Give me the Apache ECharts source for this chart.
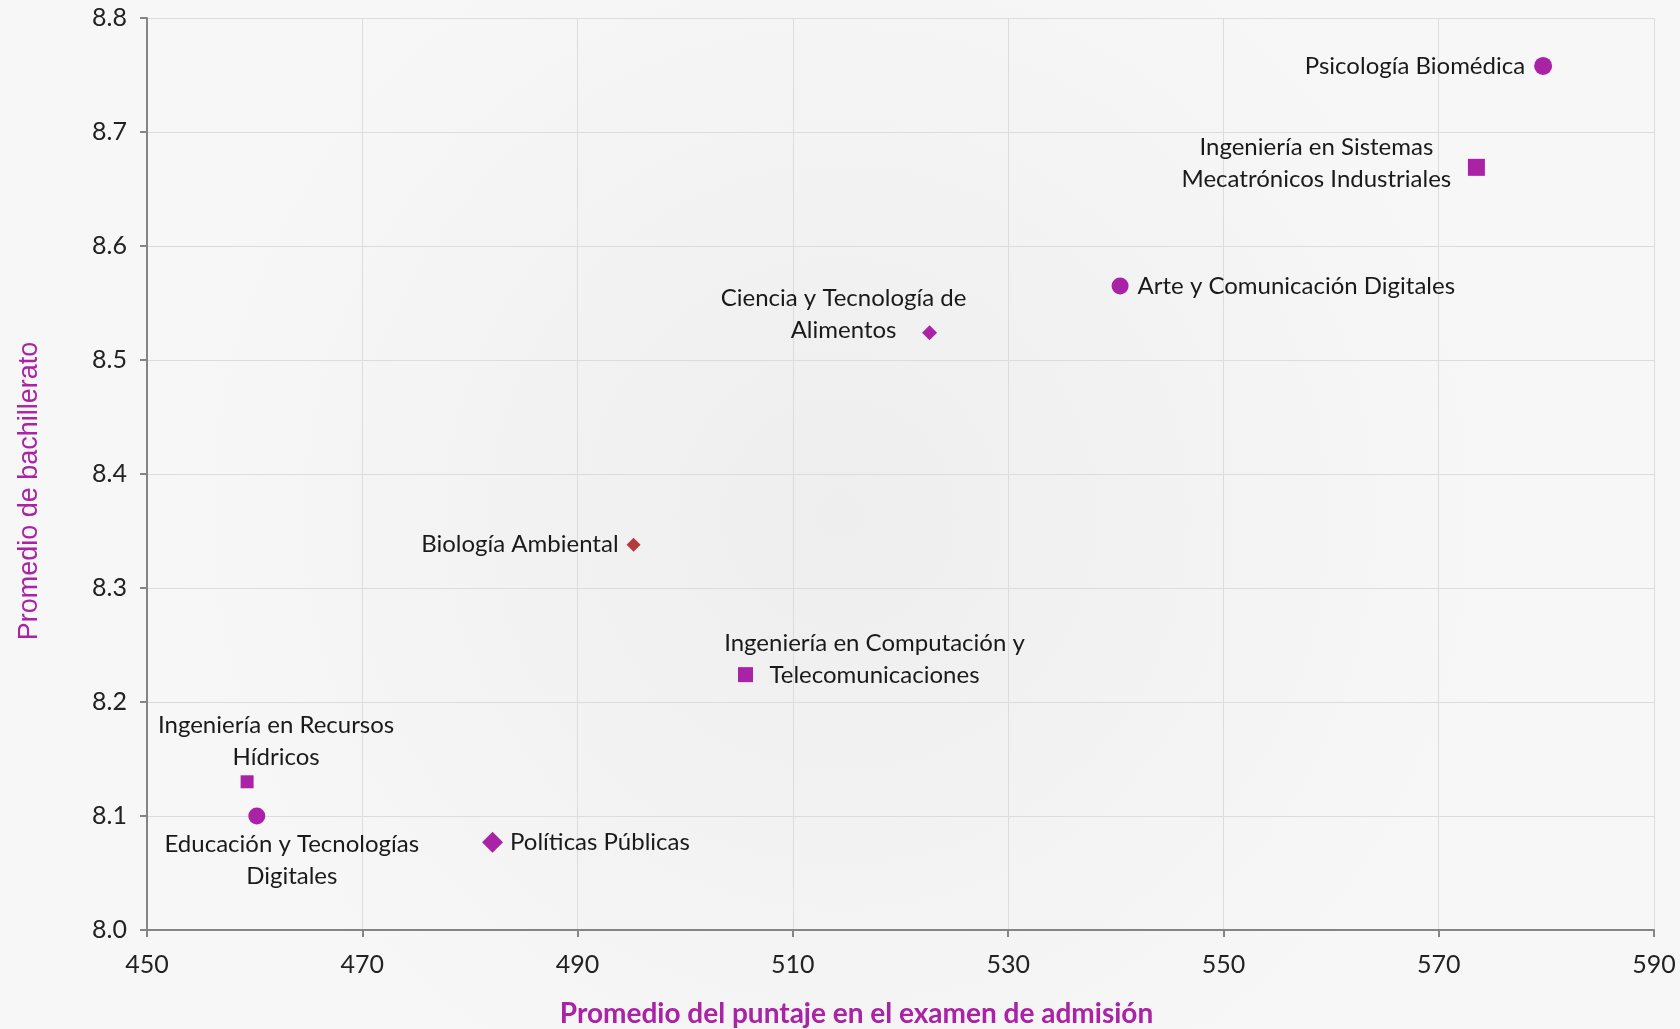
<!DOCTYPE html>
<html>
<head>
<meta charset="utf-8">
<script src="https://cdn.jsdelivr.net/npm/echarts@6/dist/echarts.min.js"></script>
<style>
  html, body { margin: 0; padding: 0; background: #f5f5f5; }
  #chart { width: 1680px; height: 1029px; }
</style>
</head>
<body>
<div id="chart"></div>
<script>
// ---- Data ----
const programs = [
  'Psicología Biomédica',
  'Ingeniería en Sistemas\nMecatrónicos Industriales',
  'Arte y Comunicación Digitales',
  'Ciencia y Tecnología de\nAlimentos',
  'Biología Ambiental',
  'Ingeniería en Computación y\nTelecomunicaciones',
  'Ingeniería en Recursos\nHídricos',
  'Educación y Tecnologías\nDigitales',
  'Políticas Públicas'
];
const admissionScore = [579.7, 573.5, 540.4, 522.7, 495.2, 505.6, 459.3, 460.2, 482.1];
const bachilleratoAvg = [8.758, 8.669, 8.565, 8.524, 8.338, 8.224, 8.130, 8.100, 8.077];
const xTicks = [450, 470, 490, 510, 530, 550, 570, 590];
const yTicks = [8.0, 8.1, 8.2, 8.3, 8.4, 8.5, 8.6, 8.7, 8.8];

// ---- Styling (kept separate from data) ----
const MAG = '#aa22a6';
const BROWN = '#b33b3b';
// label: side ('left'/'right' with distance) or centre-offset [dx, dy] from marker centre
const styles = [
  { symbol: 'circle',  size: 18, color: MAG,   side: 'left',  dist: 9 },
  { symbol: 'rect',    size: 17, color: MAG,   center: [-160, -4] },
  { symbol: 'circle',  size: 17, color: MAG,   side: 'right', dist: 9 },
  { symbol: 'diamond', size: 15, color: MAG,   center: [-86, -18] },
  { symbol: 'diamond', size: 14, color: BROWN, side: 'left',  dist: 8 },
  { symbol: 'rect',    size: 15, color: MAG,   center: [129, -15] },
  { symbol: 'rect',    size: 13, color: MAG,   center: [29, -41] },
  { symbol: 'circle',  size: 17, color: MAG,   center: [35, 44] },
  { symbol: 'diamond', size: 21, color: MAG,   side: 'right', dist: 7 }
];

const FONT = 'Lato, "Open Sans", sans-serif';

const seriesData = programs.map((name, i) => {
  const s = styles[i];
  const label = {
    show: true,
    formatter: '{b}',
    color: '#1a1a1a',
    fontFamily: FONT,
    fontSize: 24,
    lineHeight: 32
  };
  if (s.side) {
    label.position = s.side;
    label.distance = s.dist;
    label.align = s.side === 'left' ? 'right' : 'left';
    label.verticalAlign = 'middle';
  } else {
    label.position = [s.center[0] + s.size / 2, s.center[1] + s.size / 2];
    label.align = 'center';
    label.verticalAlign = 'middle';
  }
  return {
    name: name,
    value: [admissionScore[i], bachilleratoAvg[i]],
    symbol: s.symbol,
    symbolSize: s.size,
    itemStyle: { color: s.color, opacity: 1 },
    label: label
  };
});

const chart = echarts.init(document.getElementById('chart'), null, { renderer: 'canvas' });
chart.setOption({
  animation: false,
  backgroundColor: {
    type: 'radial', x: 0.5, y: 0.5, r: 0.65,
    colorStops: [
      { offset: 0, color: '#eeeeee' },
      { offset: 1, color: '#f7f7f7' }
    ]
  },
  grid: { left: 147, right: 26, top: 18, bottom: 99, containLabel: false, outerBoundsMode: 'none' },
  xAxis: {
    type: 'value',
    min: xTicks[0],
    max: xTicks[xTicks.length - 1],
    interval: xTicks[1] - xTicks[0],
    name: 'Promedio del puntaje en el examen de admisión',
    nameLocation: 'middle',
    nameGap: 70,
    nameTextStyle: {
      color: MAG, fontFamily: FONT, fontSize: 28, fontWeight: 'bold',
      padding: [0, 88, 0, 0]
    },
    axisLine: { show: true, lineStyle: { color: '#858585', width: 2 } },
    axisTick: { show: true, length: 7, lineStyle: { color: '#858585', width: 2 } },
    axisLabel: {
      margin: 22, color: '#222', fontFamily: FONT, fontSize: 25,
      formatter: v => String(v)
    },
    splitLine: { show: true, lineStyle: { color: '#dcdcdc', width: 1 } }
  },
  yAxis: {
    type: 'value',
    min: yTicks[0],
    max: yTicks[yTicks.length - 1],
    interval: 0.1,
    name: 'Promedio de bachillerato',
    nameLocation: 'middle',
    nameGap: 104,
    nameRotate: 90,
    nameTextStyle: {
      color: MAG, fontFamily: '"Liberation Sans", Arial, sans-serif', fontSize: 27,
      padding: [0, 34, 0, 0]
    },
    axisLine: { show: true, onZero: false, lineStyle: { color: '#858585', width: 2 } },
    axisTick: { show: true, length: 7, lineStyle: { color: '#858585', width: 2 } },
    axisLabel: {
      margin: 20, color: '#222', fontFamily: FONT, fontSize: 25,
      formatter: v => v.toFixed(1)
    },
    splitLine: { show: true, lineStyle: { color: '#dcdcdc', width: 1 } }
  },
  series: [{
    type: 'scatter',
    data: seriesData,
    emphasis: { disabled: true },
    labelLayout: { hideOverlap: false }
  }]
});
</script>
</body>
</html>
